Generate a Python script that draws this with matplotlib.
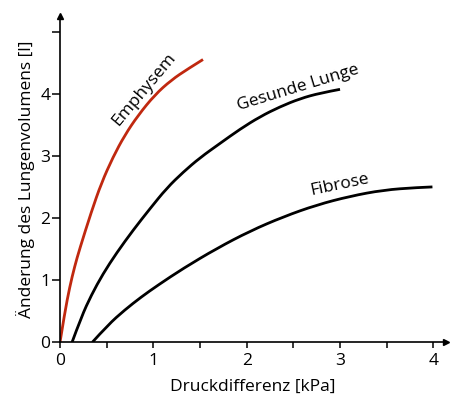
import matplotlib
matplotlib.use("Agg")
import matplotlib.pyplot as plt
from matplotlib.path import Path
from matplotlib.patches import PathPatch

# Druck-Volumen-Kurven
emph_x = [0.0, 0.05, 0.104, 0.157, 0.21, 0.336, 0.443, 0.568, 0.693, 0.836, 1.015, 1.193, 1.371, 1.532]
emph_y = [0.0, 0.47, 0.89, 1.22, 1.50, 2.10, 2.56, 2.98, 3.33, 3.65, 3.98, 4.22, 4.40, 4.55]

ges_x = [0.129, 0.229, 0.336, 0.46, 0.607, 0.786, 0.964, 1.143, 1.321, 1.5, 1.714, 1.929, 2.143, 2.357, 2.571, 2.786, 3.0]
ges_y = [0.0, 0.41, 0.76, 1.10, 1.44, 1.81, 2.15, 2.48, 2.74, 2.97, 3.20, 3.43, 3.63, 3.79, 3.92, 4.01, 4.07]

fib_x = [0.346, 0.514, 0.693, 0.871, 1.05, 1.321, 1.679, 2.036, 2.393, 2.75, 3.107, 3.464, 3.821, 3.99]
fib_y = [0.0, 0.28, 0.52, 0.73, 0.92, 1.19, 1.51, 1.79, 2.02, 2.21, 2.35, 2.45, 2.49, 2.50]

x_major = [0, 1, 2, 3, 4]
x_minor = [0.5, 1.5, 2.5, 3.5]
y_ticks = [0, 1, 2, 3, 4, 5]
y_labels = ["0", "1", "2", "3", "4", ""]

RED = "#c0280f"
plt.rcParams["font.family"] = ["Open Sans", "DejaVu Sans"]
plt.rcParams["font.size"] = 12.5


def smooth_curve(ax, xs, ys, color):
    pts = list(zip(xs, ys))
    verts = [pts[0]]
    codes = [Path.MOVETO]
    for i in range(1, len(pts) - 1):
        if i < len(pts) - 2:
            end = ((pts[i][0] + pts[i + 1][0]) / 2, (pts[i][1] + pts[i + 1][1]) / 2)
        else:
            end = pts[i + 1]
        verts += [pts[i], end]
        codes += [Path.CURVE3, Path.CURVE3]
    ax.add_patch(PathPatch(Path(verts, codes), fill=False, edgecolor=color,
                           lw=2.0, capstyle="butt"))


fig = plt.figure(figsize=(4.5, 3.99), dpi=100)
ax = fig.add_axes([60 / 450, (399 - 342.3) / 399, 385.5 / 450, 326.3 / 399])

smooth_curve(ax, emph_x, emph_y, RED)
smooth_curve(ax, ges_x, ges_y, "black")
smooth_curve(ax, fib_x, fib_y, "black")

ax.set_xlim(0, 4.13)
ax.set_ylim(0, 5.25)
for s in ("top", "right"):
    ax.spines[s].set_visible(False)
for s in ("left", "bottom"):
    ax.spines[s].set_linewidth(1.2)

# Pfeile an den Achsenenden
ax.plot(1, 0, ">k", ms=5, transform=ax.get_yaxis_transform(), clip_on=False)
ax.plot(0, 1, "^k", ms=5, transform=ax.get_xaxis_transform(), clip_on=False)

ax.set_xticks(x_major)
ax.set_xticks(x_minor, minor=True)
ax.set_yticks(y_ticks, labels=y_labels)
ax.tick_params(axis="x", which="both", direction="out", length=4, width=1.1, pad=4)
ax.tick_params(axis="y", direction="out", length=6, width=1.1, pad=1)

ax.set_xlabel("Druckdifferenz [kPa]", labelpad=7)
ax.set_ylabel("Änderung des Lungenvolumens [l]", labelpad=4)

ax.text(0.90, 4.07, "Emphysem", rotation=50, ha="center", va="center")
ax.text(2.55, 4.09, "Gesunde Lunge", rotation=17, ha="center", va="center")
ax.text(3.0, 2.53, "Fibrose", rotation=12, ha="center", va="center")

fig.savefig("out.png", dpi=100)
